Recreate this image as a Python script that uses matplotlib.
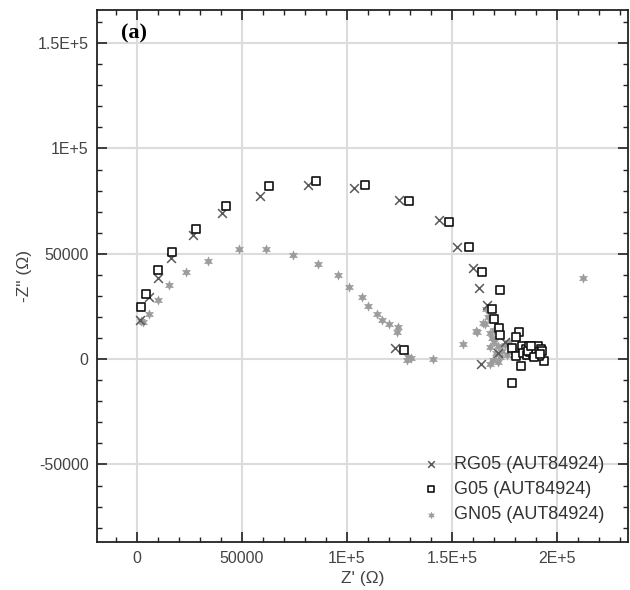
import matplotlib.pyplot as plt
from matplotlib.ticker import MultipleLocator, FuncFormatter

# RG05 (x markers)
rg_x = [1400, 5900, 9800, 16200, 26800, 40500, 58600, 81600, 103500, 124900,
        143800, 152500, 160200, 162900, 166500, 123000, 163700,
        172000, 175000, 178000, 180000, 183000, 186000, 189000, 191000]
rg_y = [18500, 29600, 38300, 47800, 58900, 69500, 77500, 82600, 81000, 75500,
        66000, 53000, 43100, 33600, 25600, 5400, -2400,
        3000, 8000, 5000, 3000, 2000, 3000, 4000, 2000]

# G05 (open squares)
g_x = [1900, 4300, 10000, 16500, 28300, 42500, 63000, 85400, 108600, 129500,
       148400, 158200, 164300, 172900, 169200, 170000, 172200, 172900, 181800,
       180200, 178600, 180500, 182900, 178700, 194000, 127100,
       183500, 185000, 186500, 188000, 189500, 191000, 192500, 184000, 185500,
       187000, 188500, 190000, 191500, 193000, 186000, 189000, 192000, 187500]
g_y = [24800, 30700, 42300, 51000, 61700, 72500, 82100, 84700, 82600, 75200,
       65200, 53000, 41500, 32800, 24000, 19000, 14900, 11400, 12700,
       10300, 5100, 1400, -3200, -11300, -900, 4300,
       6000, 5000, 6200, 4500, 5800, 6300, 5000, 3000, 2000,
       3500, 2500, 3200, 1500, 3800, 4000, 1200, 2500, 6000]

# GN05 (grey stars)
gn_x = [1700, 2700, 5900, 10200, 15200, 23200, 34000, 48700, 61400, 74400,
        86200, 95500, 101100, 107000, 110000, 114300, 116500, 120200, 124100,
        123700, 129200, 130300, 128700, 141100, 155400, 212500,
        161400, 165700, 168100, 168100, 169700, 168100, 161700, 164900,
        170000, 172000, 174000, 176000, 171000, 173000, 175000, 178000,
        180000, 182000, 177000, 169000, 167000, 166000, 170000, 172000]
gn_y = [18200, 17700, 21400, 28000, 35100, 41500, 46700, 52400, 52400, 49400,
        45100, 40000, 34300, 29300, 25200, 21400, 18500, 16500, 15100,
        12700, 1100, 300, -500, -100, 7100, 38600,
        13400, 16600, 12200, 5800, -500, -2100, 13000, 17000,
        8000, 6000, 4000, 2000, 3000, 1000, 6500, 4500,
        3000, 5000, 8000, 10000, 20000, 24000, 14000, -1500]

plt.rcParams['font.family'] = ['Liberation Sans', 'DejaVu Sans']

fig = plt.figure(figsize=(6.3, 5.9), dpi=100)
ax = fig.add_axes([0.154, 0.081, 0.843, 0.902])

ax.scatter(gn_x, gn_y, marker=(6, 1, 0), s=55, color='#9c9c9c', linewidths=0,
           label='GN05 (AUT84924)', zorder=3)
ax.scatter(rg_x, rg_y, marker='x', s=40, color='#5a5a5a', linewidths=1.1,
           label='RG05 (AUT84924)', zorder=4)
ax.scatter(g_x, g_y, marker='s', s=26, facecolors='white', edgecolors='#111111',
           linewidths=1.2, label='G05 (AUT84924)', zorder=5)

ax.set_xlim(-19000, 233800)
ax.set_ylim(-86900, 165700)

ax.xaxis.set_major_locator(MultipleLocator(50000))
ax.xaxis.set_minor_locator(MultipleLocator(10000))
ax.yaxis.set_major_locator(MultipleLocator(50000))
ax.yaxis.set_minor_locator(MultipleLocator(10000))

def fmt(v, pos):
    v = int(round(v))
    if abs(v) >= 100000:
        return ('%g' % (v / 100000)) + 'E+5'
    return str(v)

ax.xaxis.set_major_formatter(FuncFormatter(fmt))
ax.yaxis.set_major_formatter(FuncFormatter(fmt))

ax.tick_params(which='both', direction='in', top=True, right=True,
               colors='#222222', labelcolor='#444444', labelsize=11.5)
ax.tick_params(which='major', length=7, width=1.2, pad=6)
ax.tick_params(which='minor', length=3.5, width=1.0)
ax.grid(True, which='major', color='#dcdcdc', linewidth=1.5, zorder=0)
ax.set_axisbelow(True)
for sp in ax.spines.values():
    sp.set_linewidth(1.3)
    sp.set_color('#222222')

ax.set_xlabel("Z' (\u03a9)", fontsize=12.5, color='#444444', labelpad=4)
ax.set_ylabel('-Z" (\u03a9)', fontsize=12.5, color='#444444', labelpad=4)

ax.text(0.045, 0.975, '(a)', transform=ax.transAxes, fontsize=16, fontweight='bold',
        family=['Liberation Serif', 'DejaVu Serif'], va='top', ha='left')

handles, labels = ax.get_legend_handles_labels()
order = [1, 2, 0]
ax.legend([handles[i] for i in order], [labels[i] for i in order],
          loc='lower right', bbox_to_anchor=(0.985, 0.005), frameon=False,
          fontsize=13, labelcolor='#333333', handletextpad=0.5, labelspacing=0.45,
          handlelength=1.5, markerscale=0.75)

fig.savefig('out.png', dpi=100)
